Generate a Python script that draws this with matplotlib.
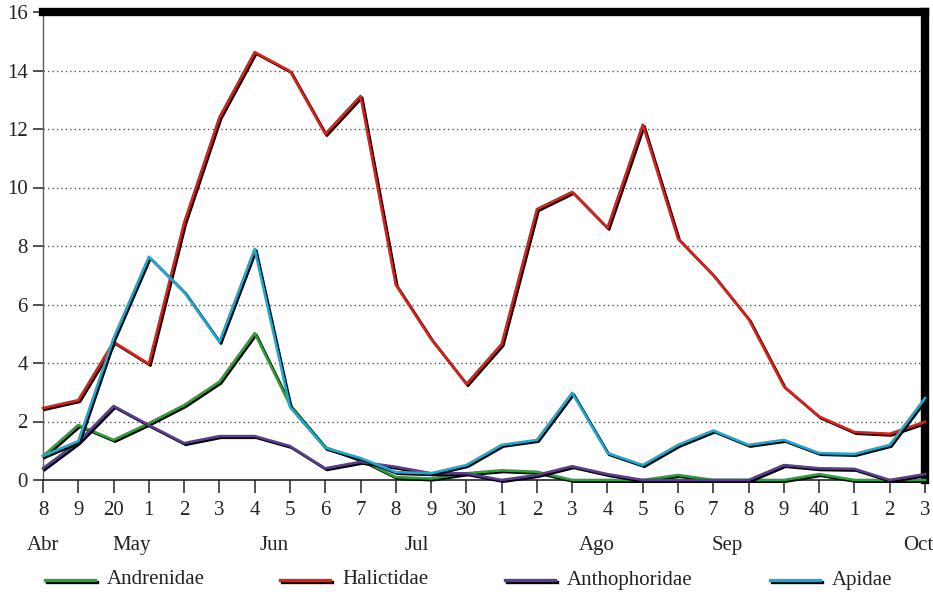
import matplotlib
matplotlib.use("Agg")
import matplotlib.pyplot as plt
import matplotlib.patheffects as pe
from matplotlib.lines import Line2D
import numpy as np

# x tick labels (week numbers)
weeks = ["8", "9", "20", "1", "2", "3", "4", "5", "6", "7", "8", "9", "30",
         "1", "2", "3", "4", "5", "6", "7", "8", "9", "40", "1", "2", "3"]
months = ["Abr", "May", "Jun", "Jul", "Ago", "Sep", "Oct"]
month_pos = [0, 2.5, 6.55, 10.6, 15.7, 19.4, 24.9]

andrenidae = [0.82, 1.88, 1.37, 1.94, 2.56, 3.36, 5.02, 2.56, 1.12, 0.7, 0.1, 0.05, 0.23,
              0.33, 0.28, 0.0, 0.0, 0.0, 0.17, 0.0, 0.0, 0.0, 0.2, 0.0, 0.0, 0.0]
halictidae = [2.46, 2.73, 4.72, 3.97, 8.8, 12.4, 14.63, 13.98, 11.83, 13.13, 6.67, 4.82, 3.28,
              4.65, 9.26, 9.85, 8.62, 12.15, 8.25, 7.0, 5.5, 3.2, 2.17, 1.64, 1.58, 1.99]
anthophoridae = [0.4, 1.3, 2.53, 1.88, 1.26, 1.5, 1.5, 1.16, 0.4, 0.62, 0.45, 0.23, 0.23,
                 0.0, 0.17, 0.47, 0.2, 0.0, 0.0, 0.0, 0.0, 0.51, 0.4, 0.38, 0.0, 0.2]
apidae = [0.82, 1.33, 4.85, 7.63, 6.43, 4.72, 7.9, 2.5, 1.1, 0.75, 0.27, 0.23, 0.51,
          1.2, 1.37, 2.98, 0.92, 0.51, 1.2, 1.69, 1.2, 1.37, 0.92, 0.89, 1.2, 2.8]

series = [("Andrenidae", andrenidae, "#2f9e3c"),
          ("Halictidae", halictidae, "#d8231c"),
          ("Anthophoridae", anthophoridae, "#5b3d8c"),
          ("Apidae", apidae, "#1ea9cf")]

plt.rcParams['font.family'] = ['Liberation Serif', 'DejaVu Serif']
FS = 15

W, H = 933, 595
fig = plt.figure(figsize=(W / 100, H / 100), dpi=100)
ax = fig.add_axes([43/W, 1 - 480/H, (925-43)/W, (480-12)/H])

x = np.arange(len(weeks))
shadow = [pe.SimpleLineShadow(offset=(1.2, -1.2), shadow_color='black', alpha=1.0),
          pe.Normal()]
for name, vals, col in series:
    ax.plot(x, vals, color=col, lw=1.9, label=name, path_effects=shadow, clip_on=False,
            zorder=3)

ax.set_xlim(0, len(weeks) - 1)
ax.set_ylim(0, 16)
ax.set_yticks(np.arange(0, 17, 2))
ax.set_xticks(x)
ax.set_xticklabels(weeks)
ax.tick_params(axis='both', labelsize=FS, colors='#222222', direction='out')
ax.tick_params(axis='x', length=9, width=1.1, pad=6)
ax.tick_params(axis='y', length=7, width=1.1, pad=4)

for yv in range(2, 16, 2):
    ax.axhline(yv, color='#555555', lw=1.0, ls=(0, (1, 2.2)), zorder=1)

ax.spines['left'].set_color('#556655')
ax.spines['left'].set_linewidth(1.0)
ax.spines['bottom'].set_color('#222222')
ax.spines['bottom'].set_linewidth(1.2)
ax.spines['top'].set_color('black')
ax.spines['top'].set_linewidth(6)
ax.spines['right'].set_color('black')
ax.spines['right'].set_linewidth(6)

for m, p in zip(months, month_pos):
    if m == "Oct":
        fig.text(1.0, 1 - 545/H, m, ha='right', va='center', fontsize=FS, color='#222222')
    else:
        ax.text(p, -0.139, m, transform=ax.get_xaxis_transform(), ha='center', va='center',
                fontsize=FS, color='#222222')

# manual legend laid out like the reference
leg_x = [45, 280, 505, 770]
leg_y = 1 - 580/H
for (name, vals, col), lx in zip(series, leg_x):
    ln = Line2D([lx/W, (lx + 50)/W], [leg_y, leg_y], transform=fig.transFigure,
                color=col, lw=2.4, path_effects=shadow)
    fig.add_artist(ln)
    fig.text((lx + 62)/W, leg_y, name, ha='left', va='center', fontsize=FS, color='#222222')

fig.savefig("out.png", dpi=100)
